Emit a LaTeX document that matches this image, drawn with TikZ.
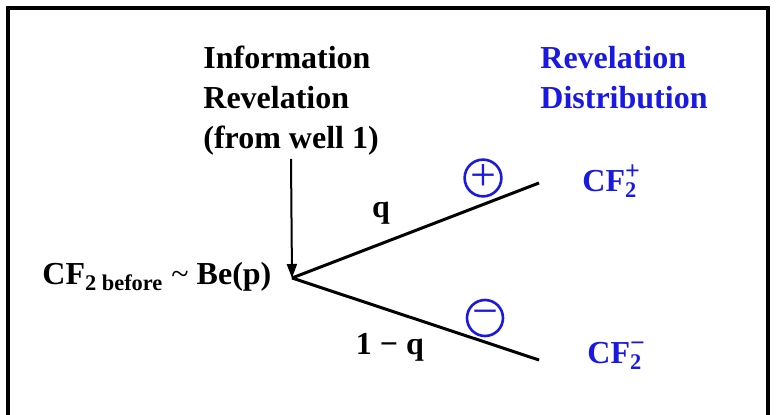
\documentclass[tikz,border=0pt]{standalone}
\usepackage{fontspec}
\setmainfont{Liberation Serif}
\usepackage{xcolor}
\usepackage{tikz}
\usetikzlibrary{arrows.meta, positioning, shapes.geometric}

\definecolor{revblue}{RGB}{25,25,225}

\begin{document}
\begin{tikzpicture}[
    x=0.5pt, y=-0.5pt,
    lbl/.style={inner sep=0pt, font=\fontsize{16}{20}\selectfont\bfseries, align=left},
    bluelbl/.style={lbl, text=revblue},
    sign/.style={circle, draw=revblue, line width=1.3pt, inner sep=0pt, minimum size=18pt, text=revblue, font=\fontsize{23}{23}\selectfont},
    branch/.style={line width=1.5pt},
    arrow/.style={-{Triangle[length=7pt, width=5pt]}, line width=1pt}
]
\useasboundingbox (0,0) rectangle (776,415);

% frame
\draw[line width=1.6pt] (8,415) -- (8,8) -- (768,8) -- (768,415);

% headings
\node[lbl, anchor=north west] (info) at (203,46) {Information\\Revelation\\(from well 1)};
\node[bluelbl, anchor=north west] (dist) at (540,46) {Revelation\\Distribution};

% tree
\coordinate (root) at (292,278);
\coordinate (up) at (539,183);
\coordinate (dn) at (539,360);
\coordinate (src) at (291,159);

\node[lbl, anchor=base west] (before) at (42,285) {CF\textsubscript{2 before} {\mdseries\textasciitilde} Be(p)};
\node[bluelbl, anchor=base west] (cfplus) at (582,192) {CF\rlap{\textsubscript{2}}\textsuperscript{\fontsize{13}{13}\selectfont +}};
\node[bluelbl, anchor=base west] (cfminus) at (587,364) {CF\rlap{\textsubscript{2}}\textsuperscript{\fontsize{13}{13}\selectfont −}};

\draw[branch] (root) -- (up);
\draw[branch] (root) -- (dn);
\draw[arrow] (src) -- (root);

\node[lbl, anchor=base] (q) at (381,218) {q};
\node[lbl, anchor=base] (oneq) at (390,355) {1 − q};

\node[sign] (plus) at (483,178) {+};
\node[sign] (minus) at (485,318) {−};

\end{tikzpicture}
\end{document}
